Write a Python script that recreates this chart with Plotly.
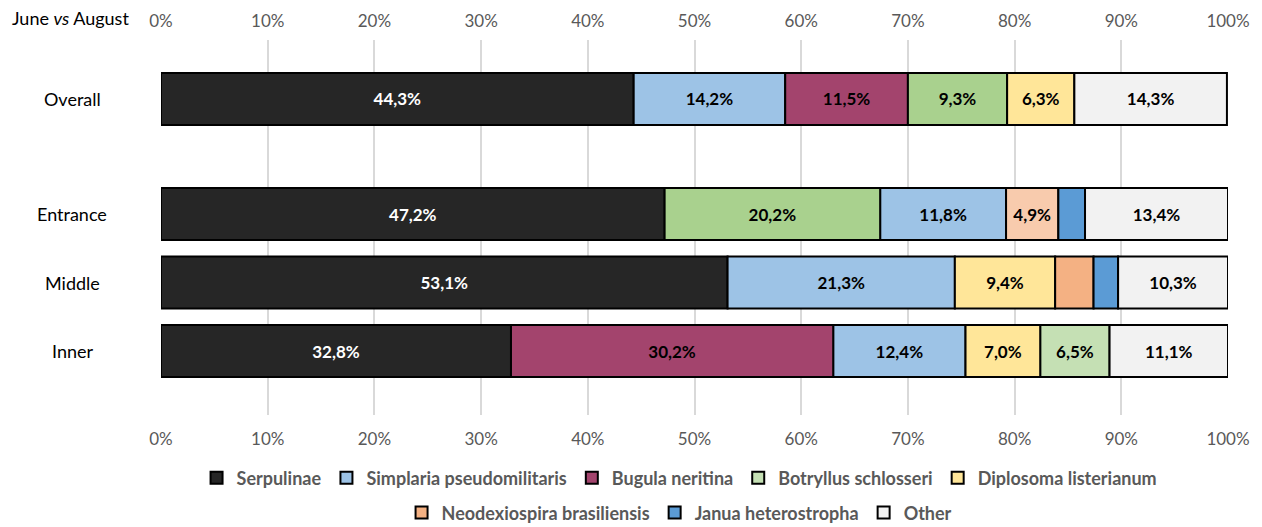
import plotly.graph_objects as go

# ---------------- data ----------------
rows = ["Overall", "Entrance", "Middle", "Inner"]

species = ["Serpulinae", "Simplaria pseudomilitaris", "Bugula neritina",
           "Botryllus schlosseri", "Diplosoma listerianum",
           "Neodexiospira brasiliensis", "Janua heterostropha", "Other"]

overall_species = ["Serpulinae", "Simplaria pseudomilitaris", "Bugula neritina",
                   "Botryllus schlosseri", "Diplosoma listerianum", "Other"]
overall_values = [44.3, 14.2, 11.5, 9.3, 6.3, 14.3]

entrance_species = ["Serpulinae", "Botryllus schlosseri", "Simplaria pseudomilitaris",
                    "Neodexiospira brasiliensis", "Janua heterostropha", "Other"]
entrance_values = [47.2, 20.2, 11.8, 4.9, 2.5, 13.4]

middle_species = ["Serpulinae", "Simplaria pseudomilitaris", "Diplosoma listerianum",
                  "Neodexiospira brasiliensis", "Janua heterostropha", "Other"]
middle_values = [53.1, 21.3, 9.4, 3.6, 2.3, 10.3]

inner_species = ["Serpulinae", "Bugula neritina", "Simplaria pseudomilitaris",
                 "Diplosoma listerianum", "Botryllus schlosseri", "Other"]
inner_values = [32.8, 30.2, 12.4, 7.0, 6.5, 11.1]

tick_values = [0, 10, 20, 30, 40, 50, 60, 70, 80, 90, 100]
tick_labels = ["0%", "10%", "20%", "30%", "40%", "50%", "60%", "70%", "80%", "90%", "100%"]

# ---------------- styles ----------------
species_colors = {
    "Serpulinae": "#262626",
    "Simplaria pseudomilitaris": "#9DC3E6",
    "Bugula neritina": "#A3446D",
    "Botryllus schlosseri": "#C5E0B4",
    "Diplosoma listerianum": "#FFE699",
    "Neodexiospira brasiliensis": "#F4B183",
    "Janua heterostropha": "#5B9BD5",
    "Other": "#F2F2F2",
}
# shade differences used for some bars in the original figure
row_color_override = {
    ("Overall", "Botryllus schlosseri"): "#A9D18E",
    ("Entrance", "Botryllus schlosseri"): "#A9D18E",
    ("Entrance", "Neodexiospira brasiliensis"): "#F8CBAD",
}
row_pos = {"Overall": 0.0, "Entrance": 1.68, "Middle": 2.68, "Inner": 3.68}
FONT = "Lato"

row_data = {
    "Overall": (overall_species, overall_values),
    "Entrance": (entrance_species, entrance_values),
    "Middle": (middle_species, middle_values),
    "Inner": (inner_species, inner_values),
}

def fmt(v):
    return f"{v:.1f}".replace(".", ",") + "%"

fig = go.Figure()

for i, sp in enumerate(species):
    xs, ys, bases, texts, cols = [], [], [], [], []
    for r in reversed(rows):
        names, vals = row_data[r]
        if sp not in names:
            continue
        k = names.index(sp)
        start = sum(vals[:k])
        xs.append(vals[k])
        ys.append(row_pos[r])
        bases.append(start)
        texts.append(fmt(vals[k]) if vals[k] >= 4 else "")
        cols.append(row_color_override.get((r, sp), species_colors[sp]))
    fig.add_trace(go.Bar(
        name=sp, x=xs, y=ys, base=bases, orientation="h",
        width=0.76,
        marker=dict(color=cols, line=dict(color="#000000", width=2)),
        text=texts, textposition="inside", insidetextanchor="middle",
        textangle=0, constraintext="none",
        insidetextfont=dict(family=FONT, size=17,
                            color="#FFFFFF" if sp == "Serpulinae" else "#000000",
                            weight="bold"),
        hoverinfo="skip",
        legend="legend" if i < 5 else "legend2",
    ))

# dummy trace for the top axis
fig.add_trace(go.Scatter(x=[0], y=[0], xaxis="x2", mode="none",
                         showlegend=False, hoverinfo="skip"))

for r in rows:
    fig.add_annotation(x=-0.0834, xref="paper", y=row_pos[r], yref="y",
                       text=r, showarrow=False, xanchor="center", yanchor="middle",
                       font=dict(family=FONT, size=18, color="#000000"))

fig.add_annotation(x=-0.1415, xref="paper", y=1.0587, yref="paper",
                   text="June <i>vs</i> August", showarrow=False,
                   xanchor="left", yanchor="middle",
                   font=dict(family=FONT, size=18, color="#000000"))

axis_common = dict(range=[0, 100], tickmode="array", tickvals=tick_values,
                   ticktext=tick_labels, ticks="outside",
                   tickcolor="rgba(0,0,0,0)",
                   tickfont=dict(family=FONT, size=17, color="#595959"),
                   zeroline=False, showline=False)

legend_font = dict(family=FONT, size=18, color="#595959", weight="bold")

fig.update_layout(
    width=1254, height=519,
    margin=dict(l=153, r=34, t=32, b=112, autoexpand=False),
    plot_bgcolor="white", paper_bgcolor="white",
    barmode="overlay",
    xaxis=dict(**axis_common, side="bottom", ticklen=9, showgrid=True,
               gridcolor="#D9D9D9", gridwidth=2),
    xaxis2=dict(**axis_common, side="top", ticklen=5, overlaying="x", anchor="y",
                matches="x", showgrid=False),
    yaxis=dict(range=[4.614, -0.861], showticklabels=False, showgrid=False,
               zeroline=False, showline=False),
    legend=dict(orientation="h", x=0.486, xanchor="center", y=-0.168,
                yanchor="middle", font=legend_font,
                itemwidth=30, bgcolor="rgba(0,0,0,0)", traceorder="normal"),
    legend2=dict(orientation="h", x=0.486, xanchor="center", y=-0.261,
                 yanchor="middle", font=legend_font,
                 itemwidth=30, bgcolor="rgba(0,0,0,0)", traceorder="normal"),
    font=dict(family=FONT),
)

fig.write_html("out.html")
